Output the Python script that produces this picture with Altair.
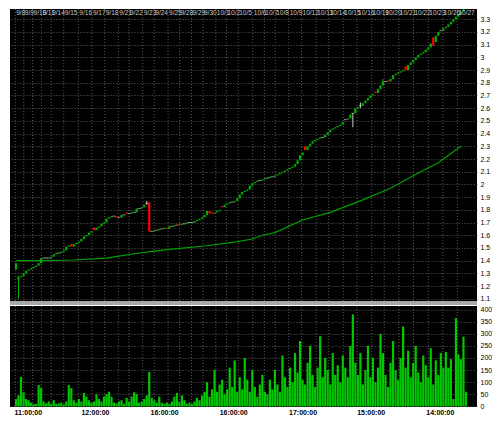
import json
import altair as alt
import pandas as pd

# ---------------- data ----------------
opens = [1.33, 1.25, 1.27, 1.28, 1.30, 1.32, 1.33, 1.34, 1.35, 1.36,
         1.38, 1.42, 1.42, 1.42, 1.42, 1.43, 1.45, 1.46, 1.46, 1.47,
         1.48, 1.51, 1.53, 1.51, 1.53, 1.54, 1.55, 1.57, 1.59, 1.60,
         1.62, 1.66, 1.64, 1.66, 1.67, 1.69, 1.70, 1.73, 1.74, 1.75,
         1.75, 1.74, 1.74, 1.76, 1.78, 1.77, 1.77, 1.78, 1.78, 1.81,
         1.81, 1.82, 1.85, 1.86, 1.63, 1.63, 1.64, 1.64, 1.65, 1.65,
         1.66, 1.65, 1.67, 1.67, 1.68, 1.69, 1.68, 1.69, 1.69, 1.70,
         1.70, 1.70, 1.71, 1.72, 1.73, 1.74, 1.76, 1.79, 1.78, 1.77,
         1.78, 1.79, 1.83, 1.82, 1.84, 1.85, 1.86, 1.86, 1.87, 1.89,
         1.92, 1.94, 1.95, 1.96, 1.99, 2.01, 2.02, 2.03, 2.03, 2.04,
         2.05, 2.05, 2.06, 2.06, 2.07, 2.08, 2.09, 2.10, 2.11, 2.12,
         2.13, 2.14, 2.16, 2.19, 2.23, 2.30, 2.27, 2.30, 2.32, 2.34,
         2.35, 2.36, 2.37, 2.37, 2.39, 2.41, 2.43, 2.44, 2.45, 2.46,
         2.47, 2.51, 2.51, 2.52, 2.56, 2.56, 2.60, 2.62, 2.62, 2.64,
         2.66, 2.68, 2.70, 2.73, 2.72, 2.75, 2.78, 2.81, 2.82, 2.81,
         2.83, 2.86, 2.87, 2.88, 2.89, 2.93, 2.90, 2.94, 2.96, 2.98,
         3.00, 3.02, 3.03, 3.04, 3.06, 3.08, 3.155, 3.12, 3.17, 3.21,
         3.21, 3.23, 3.24, 3.26, 3.28, 3.30, 3.32, 3.34, 3.36, 3.38]
closes = [1.38, 1.27, 1.28, 1.30, 1.32, 1.33, 1.34, 1.35, 1.36, 1.38,
          1.42, 1.42, 1.42, 1.42, 1.43, 1.45, 1.46, 1.46, 1.47, 1.48,
          1.51, 1.52, 1.51, 1.53, 1.54, 1.55, 1.57, 1.59, 1.60, 1.62,
          1.63, 1.64, 1.66, 1.67, 1.69, 1.70, 1.73, 1.74, 1.75, 1.75,
          1.74, 1.74, 1.76, 1.76, 1.77, 1.77, 1.78, 1.78, 1.81, 1.81,
          1.82, 1.84, 1.85, 1.63, 1.63, 1.64, 1.64, 1.65, 1.65, 1.66,
          1.65, 1.67, 1.67, 1.68, 1.68, 1.68, 1.69, 1.69, 1.70, 1.70,
          1.70, 1.71, 1.72, 1.73, 1.74, 1.76, 1.79, 1.77, 1.77, 1.78,
          1.79, 1.80, 1.82, 1.84, 1.85, 1.86, 1.86, 1.87, 1.89, 1.92,
          1.94, 1.95, 1.96, 1.99, 2.01, 2.02, 2.03, 2.03, 2.04, 2.05,
          2.05, 2.06, 2.06, 2.07, 2.08, 2.09, 2.10, 2.11, 2.12, 2.13,
          2.14, 2.16, 2.19, 2.23, 2.25, 2.27, 2.30, 2.32, 2.34, 2.35,
          2.36, 2.37, 2.37, 2.39, 2.41, 2.43, 2.44, 2.45, 2.46, 2.47,
          2.49, 2.51, 2.52, 2.55, 2.56, 2.60, 2.61, 2.62, 2.64, 2.66,
          2.68, 2.70, 2.71, 2.72, 2.75, 2.78, 2.81, 2.81, 2.81, 2.83,
          2.86, 2.87, 2.88, 2.89, 2.90, 2.90, 2.94, 2.96, 2.98, 3.00,
          3.02, 3.03, 3.04, 3.06, 3.08, 3.11, 3.095, 3.17, 3.20, 3.21,
          3.23, 3.24, 3.26, 3.28, 3.30, 3.32, 3.34, 3.36, 3.38, 3.39]
volumes = [30, 45, 121, 58, 30, 25, 15, 10, 10, 88,
           75, 20, 12, 20, 10, 25, 10, 12, 15, 8,
           20, 88, 75, 25, 15, 30, 20, 55, 40, 25,
           15, 20, 50, 30, 20, 40, 50, 60, 40, 15,
           12, 20, 25, 10, 35, 20, 40, 58, 50, 15,
           20, 30, 45, 142, 35, 25, 15, 40, 15, 10,
           15, 10, 20, 40, 55, 20, 45, 25, 10, 15,
           10, 20, 35, 25, 45, 60, 100, 40, 70, 150,
           60, 90, 110, 50, 70, 160, 80, 190, 60, 120,
           70, 200, 110, 60, 150, 80, 40, 90, 130, 60,
           50, 110, 70, 150, 90, 60, 210, 120, 80, 160,
           100, 220, 140, 270, 110, 90, 180, 250, 130, 80,
           160, 290, 120, 200, 150, 90, 220, 130, 170, 100,
           210, 160, 120, 250, 380, 180, 130, 220, 90, 150,
           250, 120, 200, 100, 160, 300, 220, 130, 80, 180,
           270, 150, 110, 200, 330, 160, 230, 120, 180, 250,
           140, 100, 210, 170, 120, 240, 90, 190, 130, 220,
           160, 225, 160, 195, 30, 365, 215, 195, 288, 60]

wick_idx = [1, 52, 134, 137, 146, 166]
wick_low = [1.10, 1.84, 2.45, 2.60, 2.78, 3.09]
wick_high = [1.28, 1.87, 2.56, 2.645, 2.83, 3.16]
wick_dir = ["up", "flat", "flat", "flat", "up", "down"]

ma_idx = [0, 10, 23, 36, 49, 55, 62, 75, 87, 94, 98, 103, 114, 125, 137, 149, 160, 168, 170, 177]
ma_val = [1.40, 1.40, 1.405, 1.42, 1.46, 1.475, 1.49, 1.515, 1.545, 1.57, 1.60, 1.62,
          1.72, 1.78, 1.87, 1.97, 2.09, 2.17, 2.20, 2.30]

date_labels = ["9/8", "9/9", "9/10", "9/11", "9/14", "9/15", "9/16", "9/17", "9/18",
               "9/21", "9/22", "9/23", "9/24", "9/25", "9/28", "9/29", "9/30",
               "10/1", "10/2", "10/5", "10/6", "10/7", "10/8", "10/9", "10/12",
               "10/13", "10/14", "10/15", "10/16", "10/19", "10/20", "10/21",
               "10/22", "10/23", "10/26", "10/27"]
date_pos = [-0.3, 3.1, 6.6, 10.1, 14.0, 19.0, 24.8, 30.2, 35.3, 40.7, 45.0, 50.4,
            55.0, 60.5, 65.1, 69.8, 74.4, 79.5, 83.7, 88.4, 94.2, 98.8, 103.1,
            108.5, 113.6, 119.4, 124.4, 130.2, 135.7, 141.5, 146.5, 152.3, 158.1,
            164.0, 169.8, 175.6]

time_labels = ["11:00:00", "16:00:00", "12:00:00", "11:00:00", "16:00:00", "10:00:00",
               "16:00:00", "12:00:00", "17:00:00", "12:00:00", "15:00:00", "10:00:00",
               "14:00:00"]
time_pos = [4.7, 17.8, 31.4, 45.3, 58.9, 72.9, 86.4, 100.4, 114.0, 127.5, 141.1, 154.7, 168.6]

price_ticks = [1.1, 1.2, 1.3, 1.4, 1.5, 1.6, 1.7, 1.8, 1.9, 2.0, 2.1, 2.2,
               2.3, 2.4, 2.5, 2.6, 2.7, 2.8, 2.9, 3.0, 3.1, 3.2, 3.3]
vol_ticks = [0, 50, 100, 150, 200, 250, 300, 350, 400]

# ---------------- tables ----------------
n = len(closes)
df = pd.DataFrame({"i": list(range(n)), "open": opens, "close": closes, "volume": volumes})
df["dir"] = ["up" if c > o else ("down" if c < o else "flat") for o, c in zip(opens, closes)]
wicks = pd.DataFrame({"i": wick_idx, "low": wick_low, "high": wick_high, "dir": wick_dir})
ma = pd.DataFrame({"i": ma_idx, "ma": ma_val})
dates = pd.DataFrame({"label": date_labels, "pos": date_pos})

W = 467
H_PRICE = 292
H_VOL = 101
FONT = "Liberation Sans"

xs = alt.Scale(domain=[-0.4, 181.4], nice=False, zero=False)
ys = alt.Scale(domain=[1.082, 3.381], nice=False, zero=False)
vs = alt.Scale(domain=[-3, 415], nice=False, zero=False)
cs = alt.Scale(domain=["up", "down", "flat"], range=["#00b000", "#ff0000", "#c8c8c8"])

GRID = "#5a5a5a"


def price_axis():
    return alt.Axis(orient="right", values=price_ticks, format="~g", grid=True,
                    gridColor=GRID, gridDash=[1, 2], gridOpacity=1, domain=False,
                    ticks=False, labelPadding=3, labelFontSize=7, labelFont=FONT,
                    labelColor="black", title=None, labelOverlap=False)


vgrid = alt.Chart(dates).mark_rule(color=GRID, strokeDash=[1, 2], strokeWidth=1).encode(
    x=alt.X("pos:Q", scale=xs, axis=None))

ma_line = alt.Chart(ma).mark_line(color="#00a000", strokeWidth=1.2, clip=True).encode(
    x=alt.X("i:Q", scale=xs, axis=None),
    y=alt.Y("ma:Q", scale=ys, axis=price_axis()))

wick_rule = alt.Chart(wicks).mark_rule(strokeWidth=1, clip=True).encode(
    x=alt.X("i:Q", scale=xs, axis=None),
    y=alt.Y("low:Q", scale=ys, axis=price_axis()),
    y2="high:Q",
    color=alt.Color("dir:N", scale=cs, legend=None))

bodies = alt.Chart(df).transform_filter("datum.dir != 'flat'").mark_bar(size=2.2, clip=True).encode(
    x=alt.X("i:Q", scale=xs, axis=None),
    y=alt.Y("open:Q", scale=ys, axis=price_axis()),
    y2="close:Q",
    color=alt.Color("dir:N", scale=cs, legend=None))

flats = alt.Chart(df).transform_filter("datum.dir == 'flat'").mark_tick(
    orient="horizontal", size=3, thickness=1, clip=True).encode(
    x=alt.X("i:Q", scale=xs, axis=None),
    y=alt.Y("close:Q", scale=ys, axis=price_axis()),
    color=alt.Color("dir:N", scale=cs, legend=None))

date_text = alt.Chart(dates).mark_text(align="left", baseline="top", dx=1, fontSize=6.5,
                                       font=FONT, color="#c8c8c8").encode(
    x=alt.X("pos:Q", scale=xs, axis=None),
    y=alt.value(1),
    text="label:N")

separator = alt.Chart(dates).mark_rule(color="#a8a8a8", strokeWidth=3).encode(
    x=alt.value(0), x2=alt.value(W), y=alt.value(H_PRICE + 2.2))

price = alt.layer(vgrid, ma_line, wick_rule, bodies, flats, date_text, separator).properties(
    width=W, height=H_PRICE)

label_expr = f"{json.dumps(time_labels)}[indexof({json.dumps(time_pos)}, datum.value)]"

vgrid2 = alt.Chart(dates).mark_rule(color=GRID, strokeDash=[1, 2], strokeWidth=1).encode(
    x=alt.X("pos:Q", scale=xs,
            axis=alt.Axis(values=time_pos, labelExpr=label_expr, grid=False, ticks=False,
                          domain=False, labelFontSize=7, labelFont=FONT, labelColor="black",
                          labelFontWeight="bold", labelPadding=1, title=None,
                          labelOverlap=False, labelFlush=False)))

vol_bars = alt.Chart(df).mark_bar(size=2.2, color="#00c800").encode(
    x=alt.X("i:Q", scale=xs),
    y=alt.Y("volume:Q", scale=vs,
            axis=alt.Axis(orient="right", values=vol_ticks, grid=True, gridColor=GRID,
                          gridDash=[1, 2], gridOpacity=1, domain=False, ticks=False,
                          labelPadding=3, labelFontSize=7, labelFont=FONT,
                          labelColor="black", title=None, labelOverlap=False)),
    y2=alt.datum(0))

volume = alt.layer(vgrid2, vol_bars).properties(width=W, height=H_VOL)

chart = alt.vconcat(price, volume, spacing=0).properties(
    padding=0, background="white"
).configure_view(fill="black", stroke=None)

chart.save("out.html", embed_options={"renderer": "svg", "actions": False})
